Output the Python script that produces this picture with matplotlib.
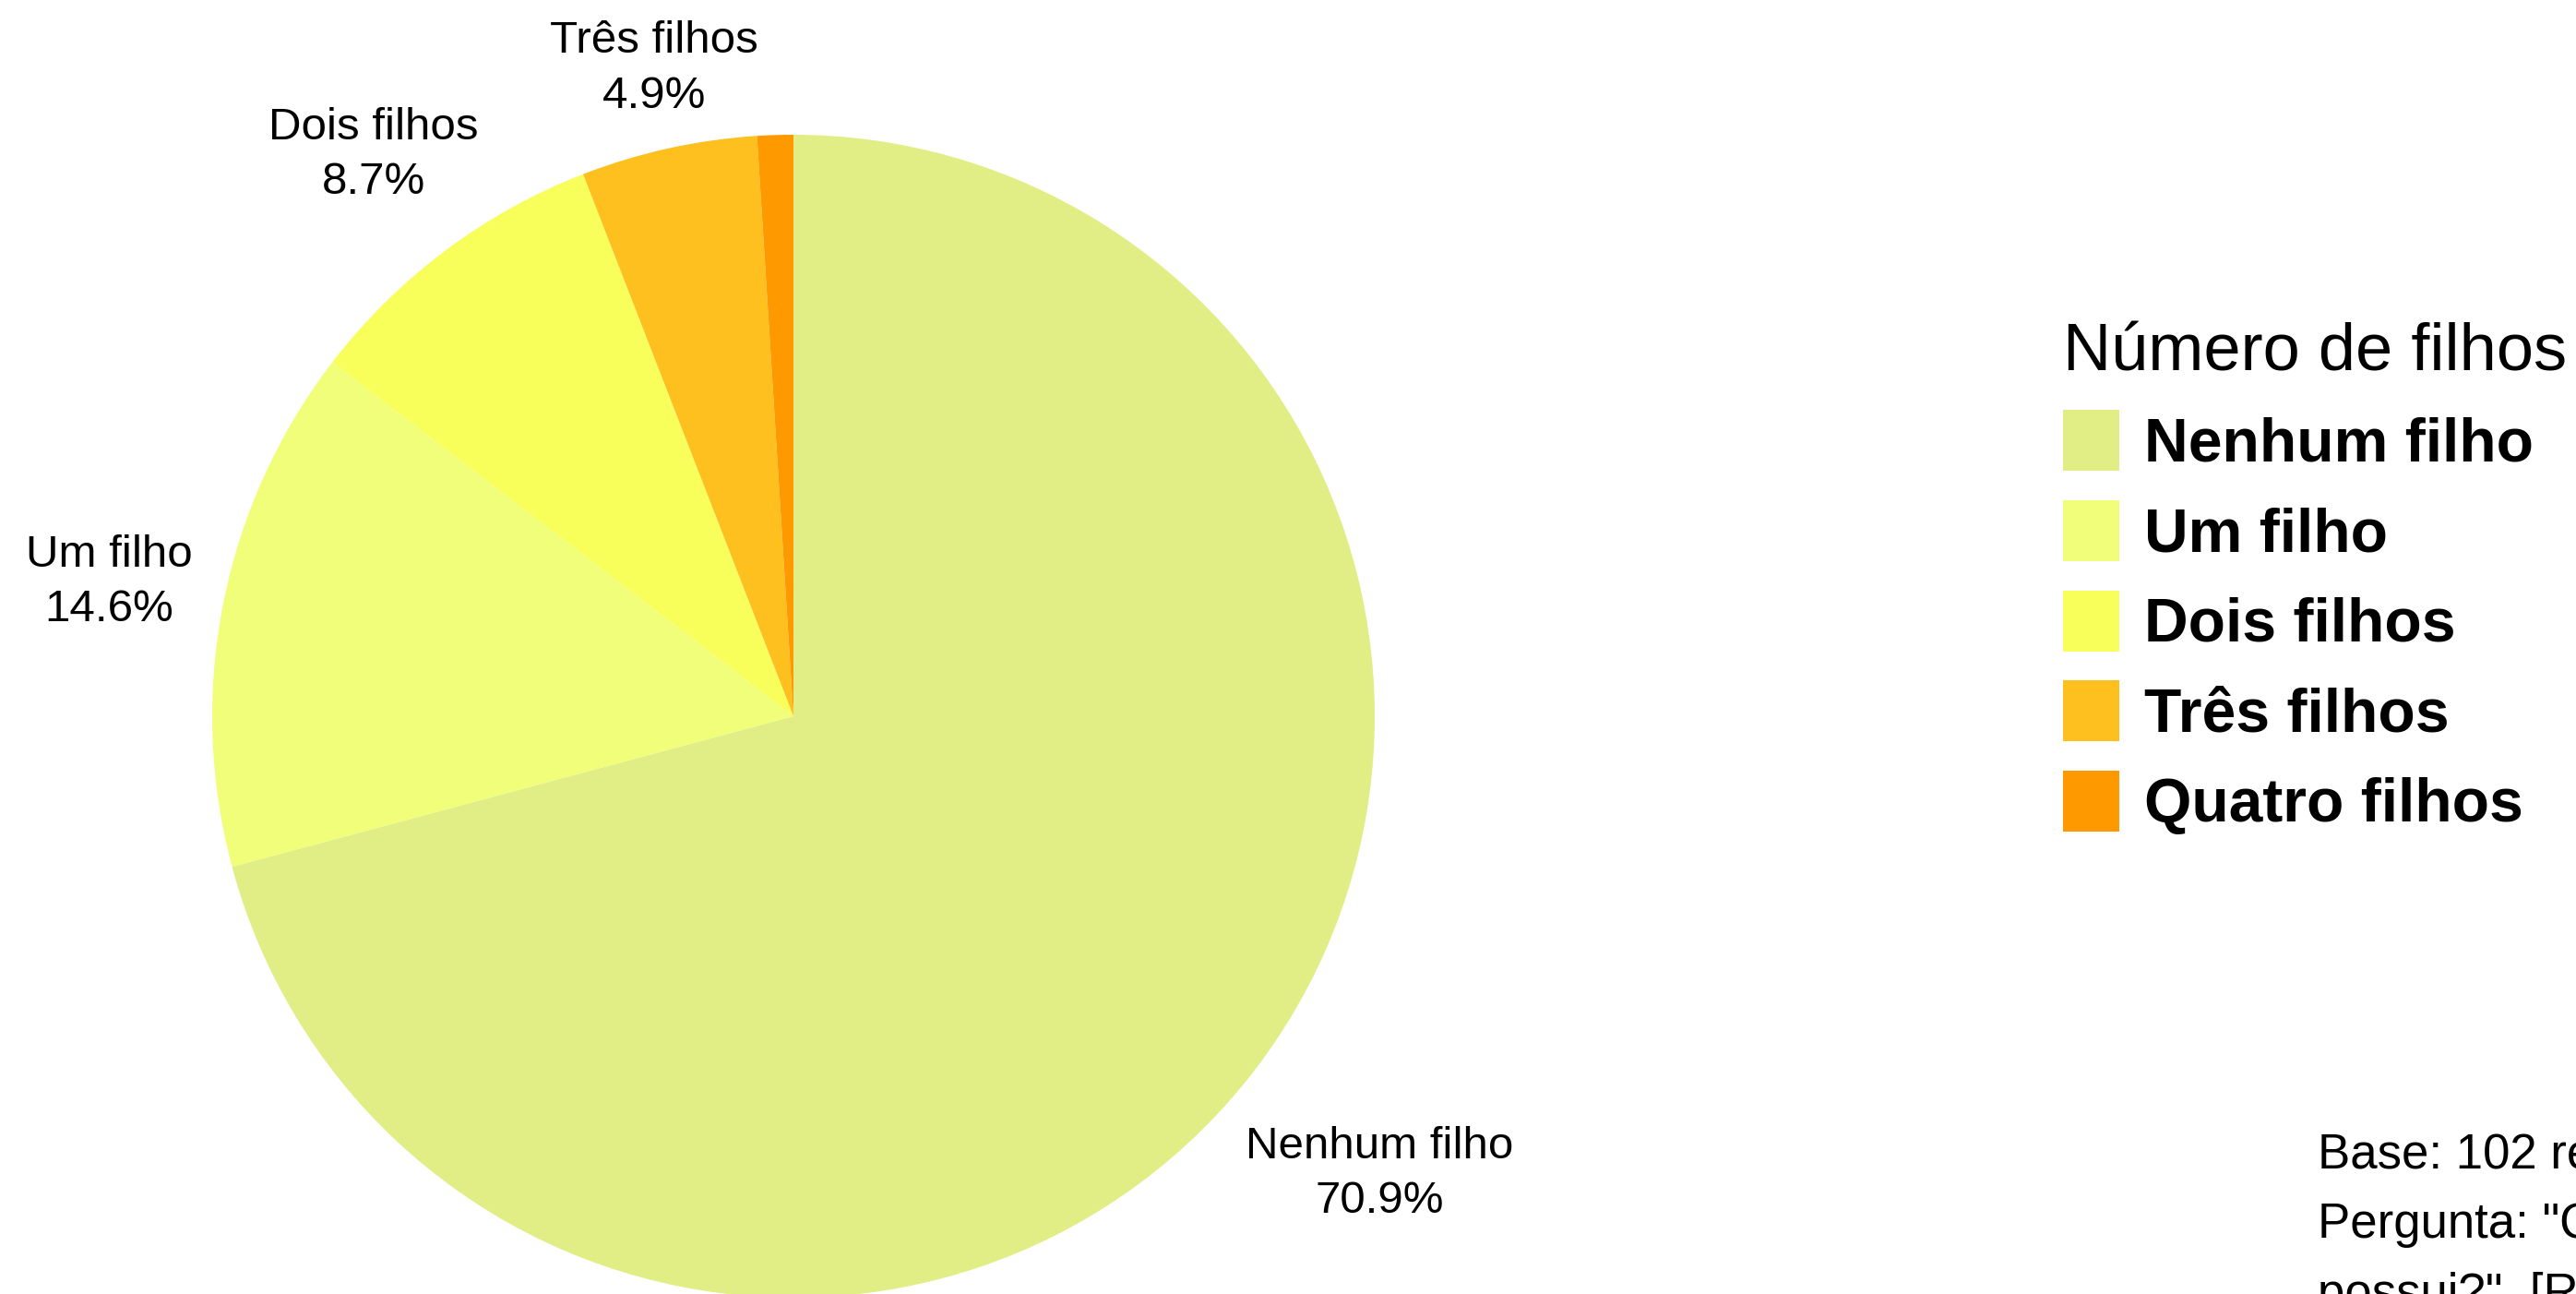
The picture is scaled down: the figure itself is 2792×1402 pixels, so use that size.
import matplotlib
matplotlib.use("Agg")
import matplotlib.pyplot as plt
import numpy as np

plt.rcParams['font.family'] = ['Liberation Sans', 'DejaVu Sans']

# data
categorias = ['Nenhum filho', 'Um filho', 'Dois filhos', 'Três filhos', 'Quatro filhos']
percentuais = [70.9, 14.6, 8.7, 4.9, 1.0]
cores = ['#E1ED85', '#F0FE7A', '#F8FE5A', '#FEC01E', '#FE9A00']
mostrar_rotulo = [True, True, True, True, False]
dist_rotulo = [1.273, 1.202, 1.213, 1.149, 1.2]

legenda_titulo = 'Número de filhos'
nota = ('Base: 102 respondentes\n'
        'Pergunta: "Quantos filhos você\n'
        'possui?". [Resposta única]')

W, H = 2792, 1402
fig = plt.figure(figsize=(W/100, H/100), dpi=100)

# pie geometry in pixels
cx, cy, R, L = 860, 776, 630, 1.4
ax = fig.add_axes([(cx - R*L)/W, (H - cy - R*L)/H, 2*R*L/W, 2*R*L/H])
wedges, _ = ax.pie(percentuais, colors=cores, startangle=90, counterclock=False,
                   radius=1, wedgeprops=dict(linewidth=0))
ax.set_xlim(-L, L)
ax.set_ylim(-L, L)
ax.set_aspect('equal')
ax.axis('off')

# outside labels
acum = np.cumsum([0] + percentuais[:-1])
for cat, p, a0, show, d in zip(categorias, percentuais, acum, mostrar_rotulo, dist_rotulo):
    if not show:
        continue
    ang = np.deg2rad(90 - (a0 + p/2) / 100 * 360)
    ax.text(d*np.cos(ang), d*np.sin(ang) - 0.01, f'{cat}\n{p:.1f}%', ha='center', va='center',
            fontsize=35.5, linespacing=1.41, clip_on=False)

leg = fig.legend(wedges, categorias, title=legenda_titulo, loc='upper left',
                 bbox_to_anchor=(2236/W, 1 - 349/H), frameon=False,
                 prop=dict(weight='bold', size=47.5), title_fontsize=52,
                 handlelength=0.92, handleheight=1.16, handletextpad=0.42,
                 labelspacing=0.43, borderpad=0, borderaxespad=0, alignment='left')

# footnote, first line centred at y=1246 px
fig.text(2512/W, 1 - 1227/H, nota, ha='left', va='top', fontsize=38,
         linespacing=1.64)

fig.savefig('out.png', dpi=100, facecolor='white')
